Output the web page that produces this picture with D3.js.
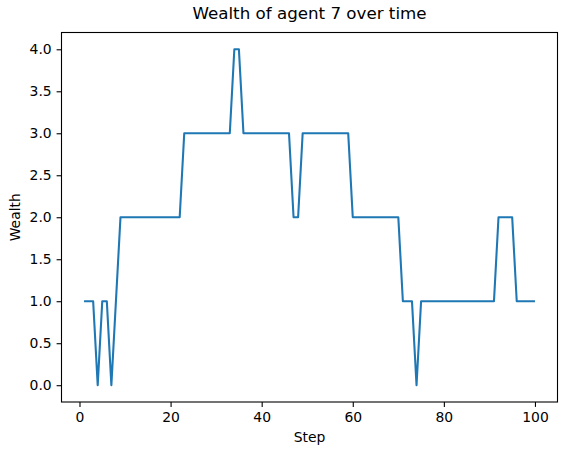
<!DOCTYPE html>
<html lang="en">
<head>
<meta charset="utf-8">
<title>Wealth of agent 7</title>
<script src="https://d3js.org/d3.v7.min.js"></script>
<style>
  body { margin: 0; background: #fff; }
  text { font-family: "DejaVu Sans", sans-serif; fill: #000; }
  .tick text { font-size: 13.9px; }
  .title { font-size: 16.7px; }
  .label { font-size: 13.9px; }
</style>
</head>
<body>
<div id="chart"></div>
<script>

// data
var steps = d3.range(1, 101);
var wealth = [
  1, 1, 1, 0, 1, 1, 0, 1, 2, 2,
  2, 2, 2, 2, 2, 2, 2, 2, 2, 2,
  2, 2, 3, 3, 3, 3, 3, 3, 3, 3,
  3, 3, 3, 4, 4, 3, 3, 3, 3, 3,
  3, 3, 3, 3, 3, 3, 2, 2, 3, 3,
  3, 3, 3, 3, 3, 3, 3, 3, 3, 2,
  2, 2, 2, 2, 2, 2, 2, 2, 2, 2,
  1, 1, 1, 0, 1, 1, 1, 1, 1, 1,
  1, 1, 1, 1, 1, 1, 1, 1, 1, 1,
  1, 2, 2, 2, 2, 1, 1, 1, 1, 1
];
var xTicks = [0, 20, 40, 60, 80, 100];
var yTicks = [0, 0.5, 1, 1.5, 2, 2.5, 3, 3.5, 4];

var w = 567, h = 455;
var m = {left: 61.5, top: 32.5, right: 557.5, bottom: 402};

var svg = d3.select("#chart").append("svg")
  .attr("width", w).attr("height", h);

// matplotlib-like 5% margins
var xPad = (100 - 1) * 0.05, yPad = (4 - 0) * 0.05;
var x = d3.scaleLinear().domain([1 - xPad, 100 + xPad]).range([m.left, m.right]);
var y = d3.scaleLinear().domain([0 - yPad, 4 + yPad]).range([m.bottom, m.top]);

// axes
var xAxis = d3.axisBottom(x).tickValues(xTicks).tickFormat(d3.format("d"))
  .tickSizeInner(4.9).tickSizeOuter(0).tickPadding(4.9);
var yAxis = d3.axisLeft(y).tickValues(yTicks).tickFormat(d3.format(".1f"))
  .tickSizeInner(4.9).tickSizeOuter(0).tickPadding(4.9);

var gx = svg.append("g").attr("transform", "translate(0," + m.bottom + ")").call(xAxis);
var gy = svg.append("g").attr("transform", "translate(" + m.left + ",0)").call(yAxis);
gx.select(".domain").remove();
gy.select(".domain").remove();
svg.selectAll(".tick line").attr("stroke", "#000").attr("stroke-width", 1.1);
svg.selectAll(".tick text").attr("fill", "#000");

// line
var line = d3.line()
  .x(function(d, i) { return x(steps[i]); })
  .y(function(d) { return y(d); });

svg.append("path")
  .datum(wealth)
  .attr("fill", "none")
  .attr("stroke", "#1f77b4")
  .attr("stroke-width", 2.08)
  .attr("stroke-linejoin", "round")
  .attr("d", line);

// frame
svg.append("rect")
  .attr("x", m.left).attr("y", m.top)
  .attr("width", m.right - m.left).attr("height", m.bottom - m.top)
  .attr("fill", "none").attr("stroke", "#000").attr("stroke-width", 1.1);

// labels
svg.append("text").attr("class", "title")
  .attr("x", (m.left + m.right) / 2).attr("y", 19)
  .attr("text-anchor", "middle")
  .text("Wealth of agent 7 over time");

svg.append("text").attr("class", "label")
  .attr("x", (m.left + m.right) / 2).attr("y", 442)
  .attr("text-anchor", "middle")
  .text("Step");

svg.append("text").attr("class", "label")
  .attr("transform", "translate(20," + ((m.top + m.bottom) / 2) + ") rotate(-90)")
  .attr("text-anchor", "middle")
  .text("Wealth");

</script>
</body>
</html>
